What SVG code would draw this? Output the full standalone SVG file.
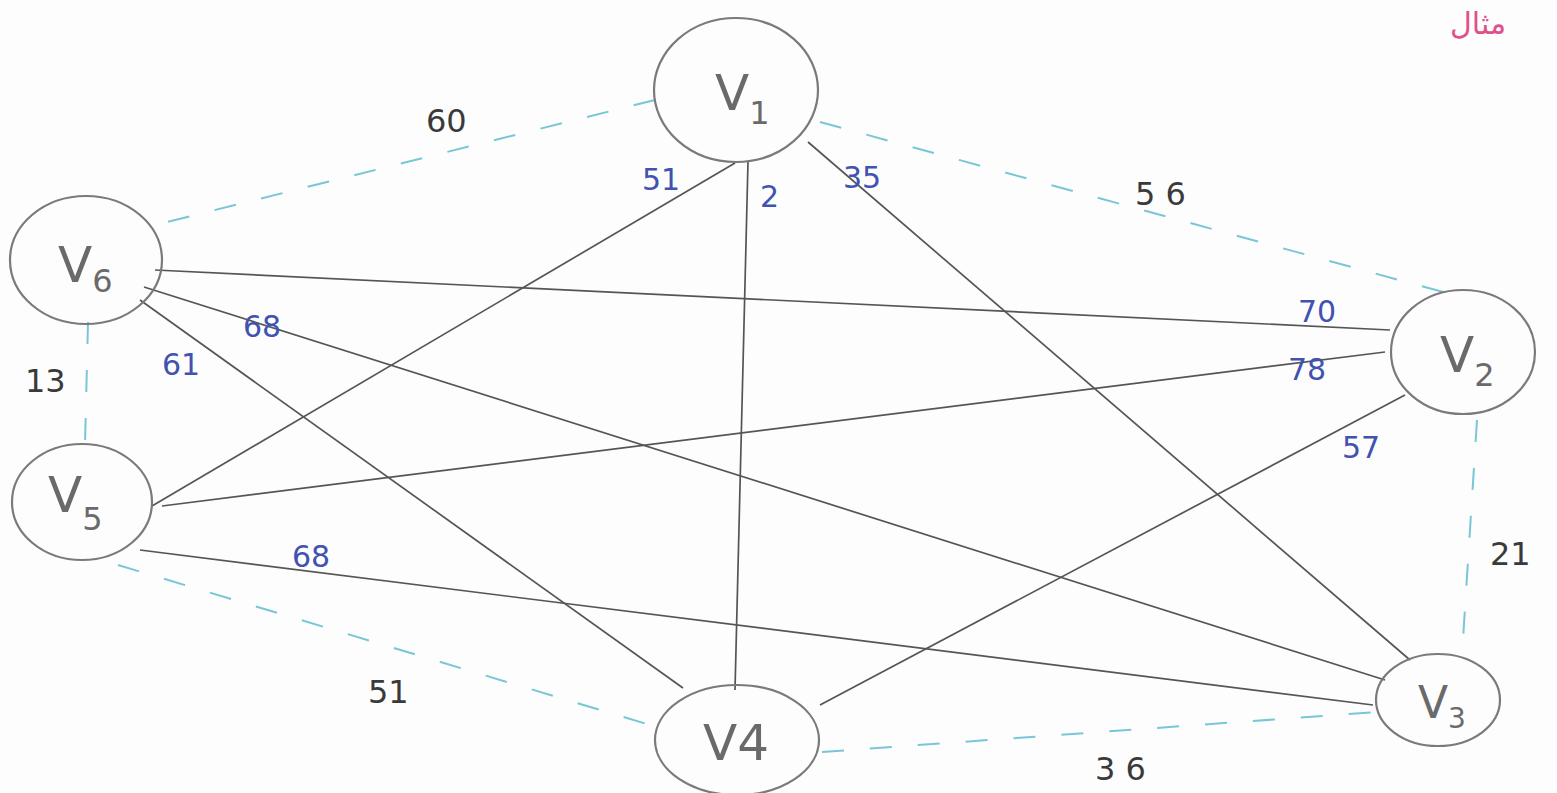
<svg xmlns="http://www.w3.org/2000/svg" width="1557" height="793" viewBox="0 0 1557 793">
<style>
.bg{fill:#fdfdfd}
.node{fill:none;stroke:#7a7a7a;stroke-width:2.2}
.nl{font-family:"DejaVu Sans","Liberation Sans",sans-serif;fill:#6a6a6a;font-size:50px}
.sub{font-size:32px}
.e{stroke:#555;stroke-width:1.7;fill:none}
.d{stroke:#78c6d6;stroke-width:2;stroke-dasharray:22 26;fill:none}
.bl{font-family:"DejaVu Sans","Liberation Sans",sans-serif;fill:#4152b0;font-size:30px}
.bk{font-family:"DejaVu Sans","Liberation Sans",sans-serif;fill:#3a3a3a;font-size:32px}
.ar{font-family:"DejaVu Sans","Noto Sans",sans-serif;fill:#e0508a;font-size:30px}
</style>
<rect class="bg" x="0" y="0" width="1557" height="793"/>
<text class="ar" x="1478" y="34" text-anchor="middle">مثال</text>
<g id="connectors">
<line class="d" x1="655" y1="100" x2="155" y2="225"/>
<line class="d" x1="820" y1="122" x2="1465" y2="298"/>
<line class="d" x1="88" y1="322" x2="85" y2="445"/>
<line class="d" x1="1477" y1="420" x2="1462" y2="655"/>
<line class="d" x1="118" y1="565" x2="660" y2="728"/>
<line class="d" x1="822" y1="752" x2="1378" y2="712"/>
<line class="e" x1="735" y1="163" x2="152" y2="506"/>
<line class="e" x1="748" y1="162" x2="735" y2="690"/>
<line class="e" x1="808" y1="142" x2="1410" y2="660"/>
<line class="e" x1="155" y1="270" x2="1390" y2="330"/>
<line class="e" x1="144" y1="287" x2="1385" y2="680"/>
<line class="e" x1="140" y1="300" x2="683" y2="688"/>
<line class="e" x1="162" y1="506" x2="1385" y2="352"/>
<line class="e" x1="140" y1="550" x2="1373" y2="705"/>
<line class="e" x1="820" y1="705" x2="1405" y2="395"/>
<text class="bl" x="642" y="190">51</text>
<text class="bl" x="760" y="207">2</text>
<text class="bl" x="843" y="188">35</text>
<text class="bl" x="1298" y="322">70</text>
<text class="bl" x="1288" y="380">78</text>
<text class="bl" x="1342" y="458">57</text>
<text class="bl" x="243" y="337">68</text>
<text class="bl" x="162" y="375">61</text>
<text class="bl" x="292" y="567">68</text>
<text class="bk" x="426" y="132">60</text>
<text class="bk" x="1135" y="205">5 6</text>
<text class="bk" x="25" y="392">13</text>
<text class="bk" x="1490" y="565">21</text>
<text class="bk" x="368" y="703">51</text>
<text class="bk" x="1095" y="780">3 6</text>
</g>
<g id="V1">
<ellipse class="node" cx="736" cy="90" rx="82" ry="72"/>
<text class="nl" x="715" y="110">V<tspan class="sub" dy="14">1</tspan></text>
</g>
<g id="V2">
<ellipse class="node" cx="1463" cy="352" rx="72" ry="62"/>
<text class="nl" x="1440" y="372">V<tspan class="sub" dy="14">2</tspan></text>
</g>
<g id="V3">
<ellipse class="node" cx="1438" cy="700" rx="62" ry="46"/>
<text class="nl" x="1418" y="718" style="font-size:44px">V<tspan class="sub" dy="10" style="font-size:28px">3</tspan></text>
</g>
<g id="V4">
<ellipse class="node" cx="737" cy="740" rx="82" ry="55"/>
<text class="nl" x="703" y="760">V4</text>
</g>
<g id="V5">
<ellipse class="node" cx="82" cy="502" rx="70" ry="58"/>
<text class="nl" x="48" y="512">V<tspan class="sub" dy="18">5</tspan></text>
</g>
<g id="V6">
<ellipse class="node" cx="86" cy="260" rx="76" ry="64"/>
<text class="nl" x="58" y="282">V<tspan class="sub" dy="10">6</tspan></text>
</g>
</svg>
